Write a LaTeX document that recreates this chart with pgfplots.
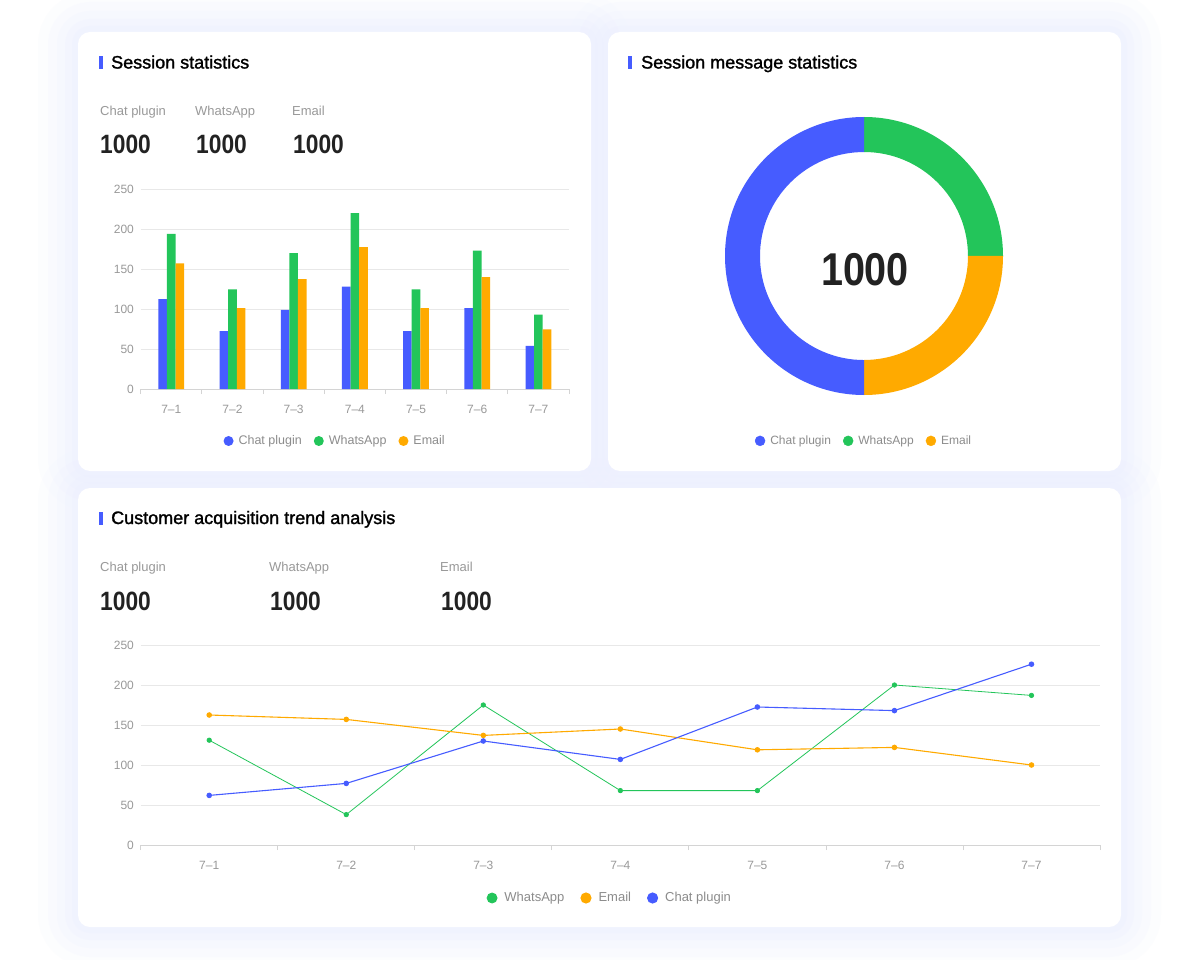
\documentclass[border=0pt]{standalone}
\usepackage{pgfplots}
\pgfplotsset{compat=1.18}
\usepackage{fontspec}
\setmainfont{Liberation Sans}
\newfontfamily\numfont[FakeStretch=0.86]{Liberation Sans}
\newfontfamily\titlefont[FakeBold=1.5]{Liberation Sans}
\definecolor{cB}{HTML}{465CFF}
\definecolor{cG}{HTML}{23C55A}
\definecolor{cO}{HTML}{FFAA00}
\definecolor{tgray}{HTML}{999999}
\definecolor{lgray}{HTML}{8C8C8C}
\definecolor{numc}{HTML}{222222}
\definecolor{glow}{HTML}{EDF0FE}
\definecolor{gridc}{HTML}{E8E8E8}
\definecolor{axc}{HTML}{D4D4D4}
\newcommand{\fs}[1]{\fontsize{#1}{#1}\selectfont}
\newcommand{\sector}[3]{%
  \fill[#1] (axis cs:{cos(#2)},{sin(#2)}) arc[start angle=#2, end angle=#3, radius=139pt]
    -- (axis cs:{0.748*cos(#3)},{0.748*sin(#3)}) arc[start angle=#3, end angle=#2, radius=104pt] -- cycle;}
\pgfplotsset{
  dash/.style={
    scale only axis, height=200pt, xmin=-0.5, xmax=6.5, ymin=0, ymax=250,
    axis lines*=left, y axis line style={draw=none}, x axis line style={draw=axc, line width=0.8pt},
    ytick={0,50,...,250}, ymajorgrids, grid style={draw=gridc, line width=0.8pt},
    ytick style={draw=none},
    xtick={0,...,6}, xticklabels={7--1,7--2,7--3,7--4,7--5,7--6,7--7},
    major x tick style={draw=none},
    minor xtick={-0.5,0.5,...,6.5}, minor tick length=5pt, tick align=outside,
    minor x tick style={draw=axc, line width=0.8pt},
    ticklabel style={font=\fs{12}, text=tgray},
    /pgf/number format/assume math mode=true,
    yticklabel style={xshift=1pt}, xticklabel style={yshift=-8pt},
    legend columns=3,
    legend style={draw=none, fill=none, font=\fs{12.5}, text=lgray,
      /tikz/every odd column/.append style={column sep=3pt},
      /tikz/every even column/.append style={column sep=10pt}},
  }
}
\begin{document}
\begin{tikzpicture}
\begin{scope}[x=1pt,y=-1pt]
\useasboundingbox (0,0) rectangle (1200,960);
\fill[white] (0,0) rectangle (1200,960);
% glow
\foreach \d/\o in {40/0.12,30/0.16,21/0.2,13/0.26,6/0.34}{
  \fill[glow, opacity=\o, rounded corners={12+\d}] (78-\d,32-\d) rectangle (591+\d,471+\d);
  \fill[glow, opacity=\o, rounded corners={12+\d}] (608-\d,32-\d) rectangle (1121+\d,471+\d);
  \fill[glow, opacity=\o, rounded corners={12+\d}] (78-\d,488-\d) rectangle (1121+\d,927+\d);
}
\fill[white, rounded corners=12] (78,32) rectangle (591,471);
\fill[white, rounded corners=12] (608,32) rectangle (1121,471);
\fill[white, rounded corners=12] (78,488) rectangle (1121,927);
% accents
\fill[cB] (99,56) rectangle (102.5,69);
\fill[cB] (628,56) rectangle (631.5,69);
\fill[cB] (99,512) rectangle (102.5,525);
% titles
\node[anchor=base west, inner sep=0, font=\titlefont\fs{18}] at (111,68.5) {Session statistics};
\node[anchor=base west, inner sep=0, font=\titlefont\fs{18}] at (641,68.5) {Session message statistics};
\node[anchor=base west, inner sep=0, font=\titlefont\fs{18}] at (111,524) {Customer acquisition trend analysis};
% summary labels
\foreach \x/\t in {100/Chat plugin,195/WhatsApp,292/Email}{
  \node[anchor=base west, inner sep=0, font=\fs{13}, text=tgray] at (\x,116) {\t};}
\foreach \x in {100,196,293}{
  \node[anchor=base west, inner sep=0, font=\numfont\bfseries\fs{26.5}, text=numc] at (\x,154) {1000};}
\foreach \x/\t in {100/Chat plugin,269/WhatsApp,440/Email}{
  \node[anchor=base west, inner sep=0, font=\fs{13}, text=tgray] at (\x,571.5) {\t};}
\foreach \x in {100,270,441}{
  \node[anchor=base west, inner sep=0, font=\numfont\bfseries\fs{26.5}, text=numc] at (\x,610) {1000};}
\node[anchor=base, inner sep=0, font=\numfont\bfseries\fs{46}, text=numc] at (865,286) {1000};
\end{scope}

% ---- bar chart
\begin{axis}[dash, at={(140.7pt,-389pt)}, anchor=south west, width=428.3pt,
  ybar=0pt, bar width=8.6pt,
  legend style={at={(0.454,-0.26)}, anchor=center}]
\addplot[fill=cB, draw=none, legend image code/.code={\fill[cB] (0pt,0pt) circle (5pt);}]
  coordinates {(0,112.5) (1,72.5) (2,99) (3,128) (4,72.5) (5,101) (6,54)};
\addlegendentry{Chat plugin}
\addplot[fill=cG, draw=none, legend image code/.code={\fill[cG] (0pt,0pt) circle (5pt);}]
  coordinates {(0,194) (1,124.5) (2,170) (3,220) (4,124.5) (5,173) (6,93)};
\addlegendentry{WhatsApp}
\addplot[fill=cO, draw=none, legend image code/.code={\fill[cO] (0pt,0pt) circle (5pt);}]
  coordinates {(0,157) (1,101) (2,137.5) (3,177.5) (4,101) (5,140) (6,74.5)};
\addlegendentry{Email}
\end{axis}

% ---- donut
\begin{axis}[at={(864pt,-256pt)}, anchor=center, scale only axis, width=278pt, height=278pt,
  xmin=-1, xmax=1, ymin=-1, ymax=1, hide axis, clip=false,
  legend columns=3,
  legend style={at={(0.5,-0.165)}, anchor=center, draw=none, fill=none, font=\fs{12}, text=lgray,
    /tikz/every odd column/.append style={column sep=3pt},
    /tikz/every even column/.append style={column sep=10pt}}]
% values: WhatsApp 25, Email 25, Chat plugin 50 (percent), clockwise from top
\sector{cG}{90}{0}
\sector{cO}{0}{-90}
\sector{cB}{-90}{-270}
\addlegendimage{legend image code/.code={\fill[cB] (0pt,0pt) circle (5pt);}}
\addlegendentry{Chat plugin}
\addlegendimage{legend image code/.code={\fill[cG] (0pt,0pt) circle (5pt);}}
\addlegendentry{WhatsApp}
\addlegendimage{legend image code/.code={\fill[cO] (0pt,0pt) circle (5pt);}}
\addlegendentry{Email}
\end{axis}

% ---- line chart
\begin{axis}[dash, at={(140.7pt,-845pt)}, anchor=south west, width=959.3pt,
  legend style={at={(0.489,-0.265)}, anchor=center, font=\fs{13},
    /tikz/every odd column/.append style={column sep=5pt},
    /tikz/every even column/.append style={column sep=14pt}}]
\addplot[cG, line width=0.8pt, mark=*, mark size=2.2pt, mark options={fill=cG, draw=cG},
  legend image code/.code={\fill[cG] (0pt,0pt) circle (5pt);}]
  coordinates {(0,131) (1,38) (2,175) (3,68) (4,68) (5,200) (6,187)};
\addlegendentry{WhatsApp}
\addplot[cO, line width=1.1pt, mark=*, mark size=2.2pt, mark options={fill=cO, draw=cO},
  legend image code/.code={\fill[cO] (0pt,0pt) circle (5pt);}]
  coordinates {(0,162.5) (1,157) (2,137) (3,145) (4,119) (5,122) (6,100)};
\addlegendentry{Email}
\addplot[cB, line width=1.1pt, mark=*, mark size=2.2pt, mark options={fill=cB, draw=cB},
  legend image code/.code={\fill[cB] (0pt,0pt) circle (5pt);}]
  coordinates {(0,62) (1,77) (2,130) (3,107) (4,172.5) (5,168) (6,226)};
\addlegendentry{Chat plugin}
\end{axis}
\end{tikzpicture}
\end{document}
